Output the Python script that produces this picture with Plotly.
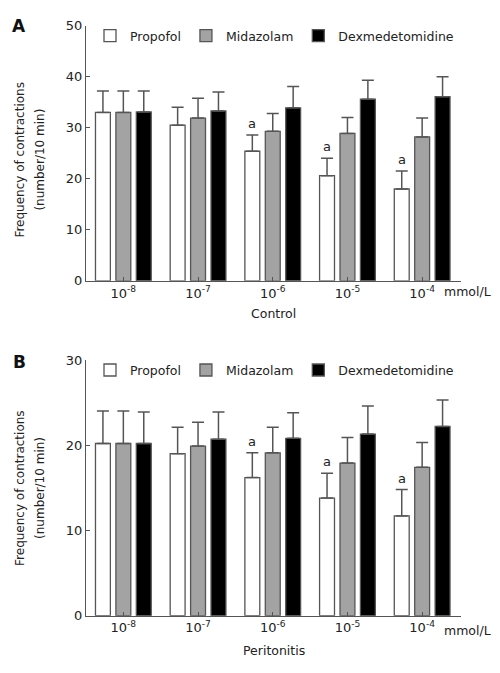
import plotly.graph_objects as go

# ---------------- data ----------------
concentrations = ["10<sup>-8</sup>", "10<sup>-7</sup>", "10<sup>-6</sup>", "10<sup>-5</sup>", "10<sup>-4</sup>"]
series_names = ["Propofol", "Midazolam", "Dexmedetomidine"]

# Panel A: Control
control_propofol = [33.0, 30.5, 25.4, 20.6, 18.0]
control_propofol_sd = [4.2, 3.5, 3.2, 3.4, 3.5]
control_midazolam = [33.0, 31.9, 29.3, 28.9, 28.2]
control_midazolam_sd = [4.2, 3.9, 3.5, 3.1, 3.7]
control_dex = [33.1, 33.3, 33.9, 35.6, 36.1]
control_dex_sd = [4.1, 3.7, 4.2, 3.7, 3.9]
control_sig = ["", "", "a", "a", "a"]

# Panel B: Peritonitis
perit_propofol = [20.2, 19.0, 16.2, 13.8, 11.7]
perit_propofol_sd = [3.8, 3.1, 2.9, 2.9, 3.1]
perit_midazolam = [20.2, 19.9, 19.1, 17.9, 17.4]
perit_midazolam_sd = [3.8, 2.8, 3.0, 3.0, 2.9]
perit_dex = [20.2, 20.7, 20.8, 21.3, 22.2]
perit_dex_sd = [3.7, 3.2, 3.0, 3.3, 3.1]
perit_sig = ["", "", "a", "a", "a"]

yticks_A = [0, 10, 20, 30, 40, 50]
yticks_B = [0, 10, 20, 30]

# ---------------- styling ----------------
PAGE_W, PAGE_H = 500, 673
BODY = 8  # default page margin around the plot div
W, H = PAGE_W - 2 * BODY, PAGE_H - 2 * BODY
FONT = "DejaVu Sans"
TXT = "#222222"
LINE = "#555555"
fills = ["#ffffff", "#a3a3a3", "#000000"]
bargap, bargroupgap = 0.18, 0.27

def px_x(p):
    return (p - BODY) / W

def px_y(p):
    return 1 - (p - BODY) / H

x_dom = [px_x(86), px_x(461)]
yA_dom = [px_y(280), px_y(19)]
yB_dom = [px_y(622.7), px_y(361)]

xpos = list(range(len(concentrations)))

fig = go.Figure()

panels = [
    ("x", "y", "legend", [control_propofol, control_midazolam, control_dex],
     [control_propofol_sd, control_midazolam_sd, control_dex_sd]),
    ("x2", "y2", "legend2", [perit_propofol, perit_midazolam, perit_dex],
     [perit_propofol_sd, perit_midazolam_sd, perit_dex_sd]),
]

for xa, ya, lg, vals, sds in panels:
    for name, v, sd, col in zip(series_names, vals, sds, fills):
        fig.add_trace(go.Bar(
            x=xpos, y=v, name=name, xaxis=xa, yaxis=ya, legend=lg,
            marker=dict(color=col, line=dict(color=LINE, width=1.3)),
            error_y=dict(type="data", array=sd, arrayminus=[0] * len(sd), symmetric=False,
                         color=LINE, thickness=1.5, width=6),
        ))

axis_common = dict(showline=True, linecolor=LINE, linewidth=1.3, ticks="inside",
                   ticklen=4, tickcolor=LINE, showgrid=False, zeroline=False,
                   tickfont=dict(family=FONT, size=13, color=TXT))

fig.update_layout(
    width=W, height=H, margin=dict(l=0, r=0, t=0, b=0),
    paper_bgcolor="white", plot_bgcolor="white",
    barmode="group", bargap=bargap, bargroupgap=bargroupgap,
    font=dict(family=FONT, color=TXT),
    xaxis=dict(domain=x_dom, anchor="y", range=[-0.5, 4.52], tickvals=xpos,
               ticktext=concentrations, **axis_common),
    yaxis=dict(domain=yA_dom, anchor="x", range=[0, 50], tickvals=yticks_A, **axis_common),
    xaxis2=dict(domain=x_dom, anchor="y2", range=[-0.5, 4.52], tickvals=xpos,
                ticktext=concentrations, **axis_common),
    yaxis2=dict(domain=yB_dom, anchor="x2", range=[0, 30], tickvals=yticks_B, **axis_common),
    legend=dict(orientation="h", x=px_x(90), y=px_y(29.5), xanchor="left", yanchor="middle",
                bgcolor="rgba(0,0,0,0)", font=dict(family=FONT, size=12.5, color=TXT),
                traceorder="normal"),
    legend2=dict(orientation="h", x=px_x(90), y=px_y(371.7), xanchor="left", yanchor="middle",
                 bgcolor="rgba(0,0,0,0)", font=dict(family=FONT, size=12.5, color=TXT),
                 traceorder="normal"),
)

# significance markers above Propofol error bars
slot = (1 - bargap) / 3
annotations = []
for xa, ya, means, sds, sig in [("x", "y", control_propofol, control_propofol_sd, control_sig),
                                ("x2", "y2", perit_propofol, perit_propofol_sd, perit_sig)]:
    for i, s in enumerate(sig):
        if s:
            annotations.append(dict(x=xpos[i] - slot, y=means[i] + sds[i], xref=xa, yref=ya,
                                    text=s, showarrow=False, yanchor="bottom", yshift=2,
                                    font=dict(family=FONT, size=13, color=TXT)))

# panel letters, axis titles, units
for letter, yp in [("A", 19), ("B", 363)]:
    annotations.append(dict(x=px_x(19), y=px_y(yp), xref="paper", yref="paper", text=f"<b>{letter}</b>",
                            showarrow=False, xanchor="center", yanchor="middle",
                            font=dict(family=FONT, size=17, color="#111111")))

for yc in [156, 492]:
    annotations.append(dict(x=px_x(20), y=px_y(yc), xref="paper", yref="paper",
                            text="Frequency of contractions", textangle=-90, showarrow=False,
                            xanchor="center", yanchor="middle",
                            font=dict(family=FONT, size=12, color=TXT)))
    annotations.append(dict(x=px_x(40), y=px_y(yc), xref="paper", yref="paper",
                            text="(number/10 min)", textangle=-90, showarrow=False,
                            xanchor="center", yanchor="middle",
                            font=dict(family=FONT, size=12, color=TXT)))

for title, yl, yt in [("Control", 291, 313), ("Peritonitis", 638, 658)]:
    annotations.append(dict(x=px_x(442), y=px_y(yl), xref="paper", yref="paper", text="mmol/L",
                            showarrow=False, xanchor="left", yanchor="middle",
                            font=dict(family=FONT, size=12.5, color=TXT)))
    annotations.append(dict(x=(x_dom[0] + x_dom[1]) / 2, y=px_y(yt), xref="paper", yref="paper",
                            text=title, showarrow=False, xanchor="center", yanchor="middle",
                            font=dict(family=FONT, size=12.5, color=TXT)))

fig.update_layout(annotations=annotations)

fig.write_html("out.html")
